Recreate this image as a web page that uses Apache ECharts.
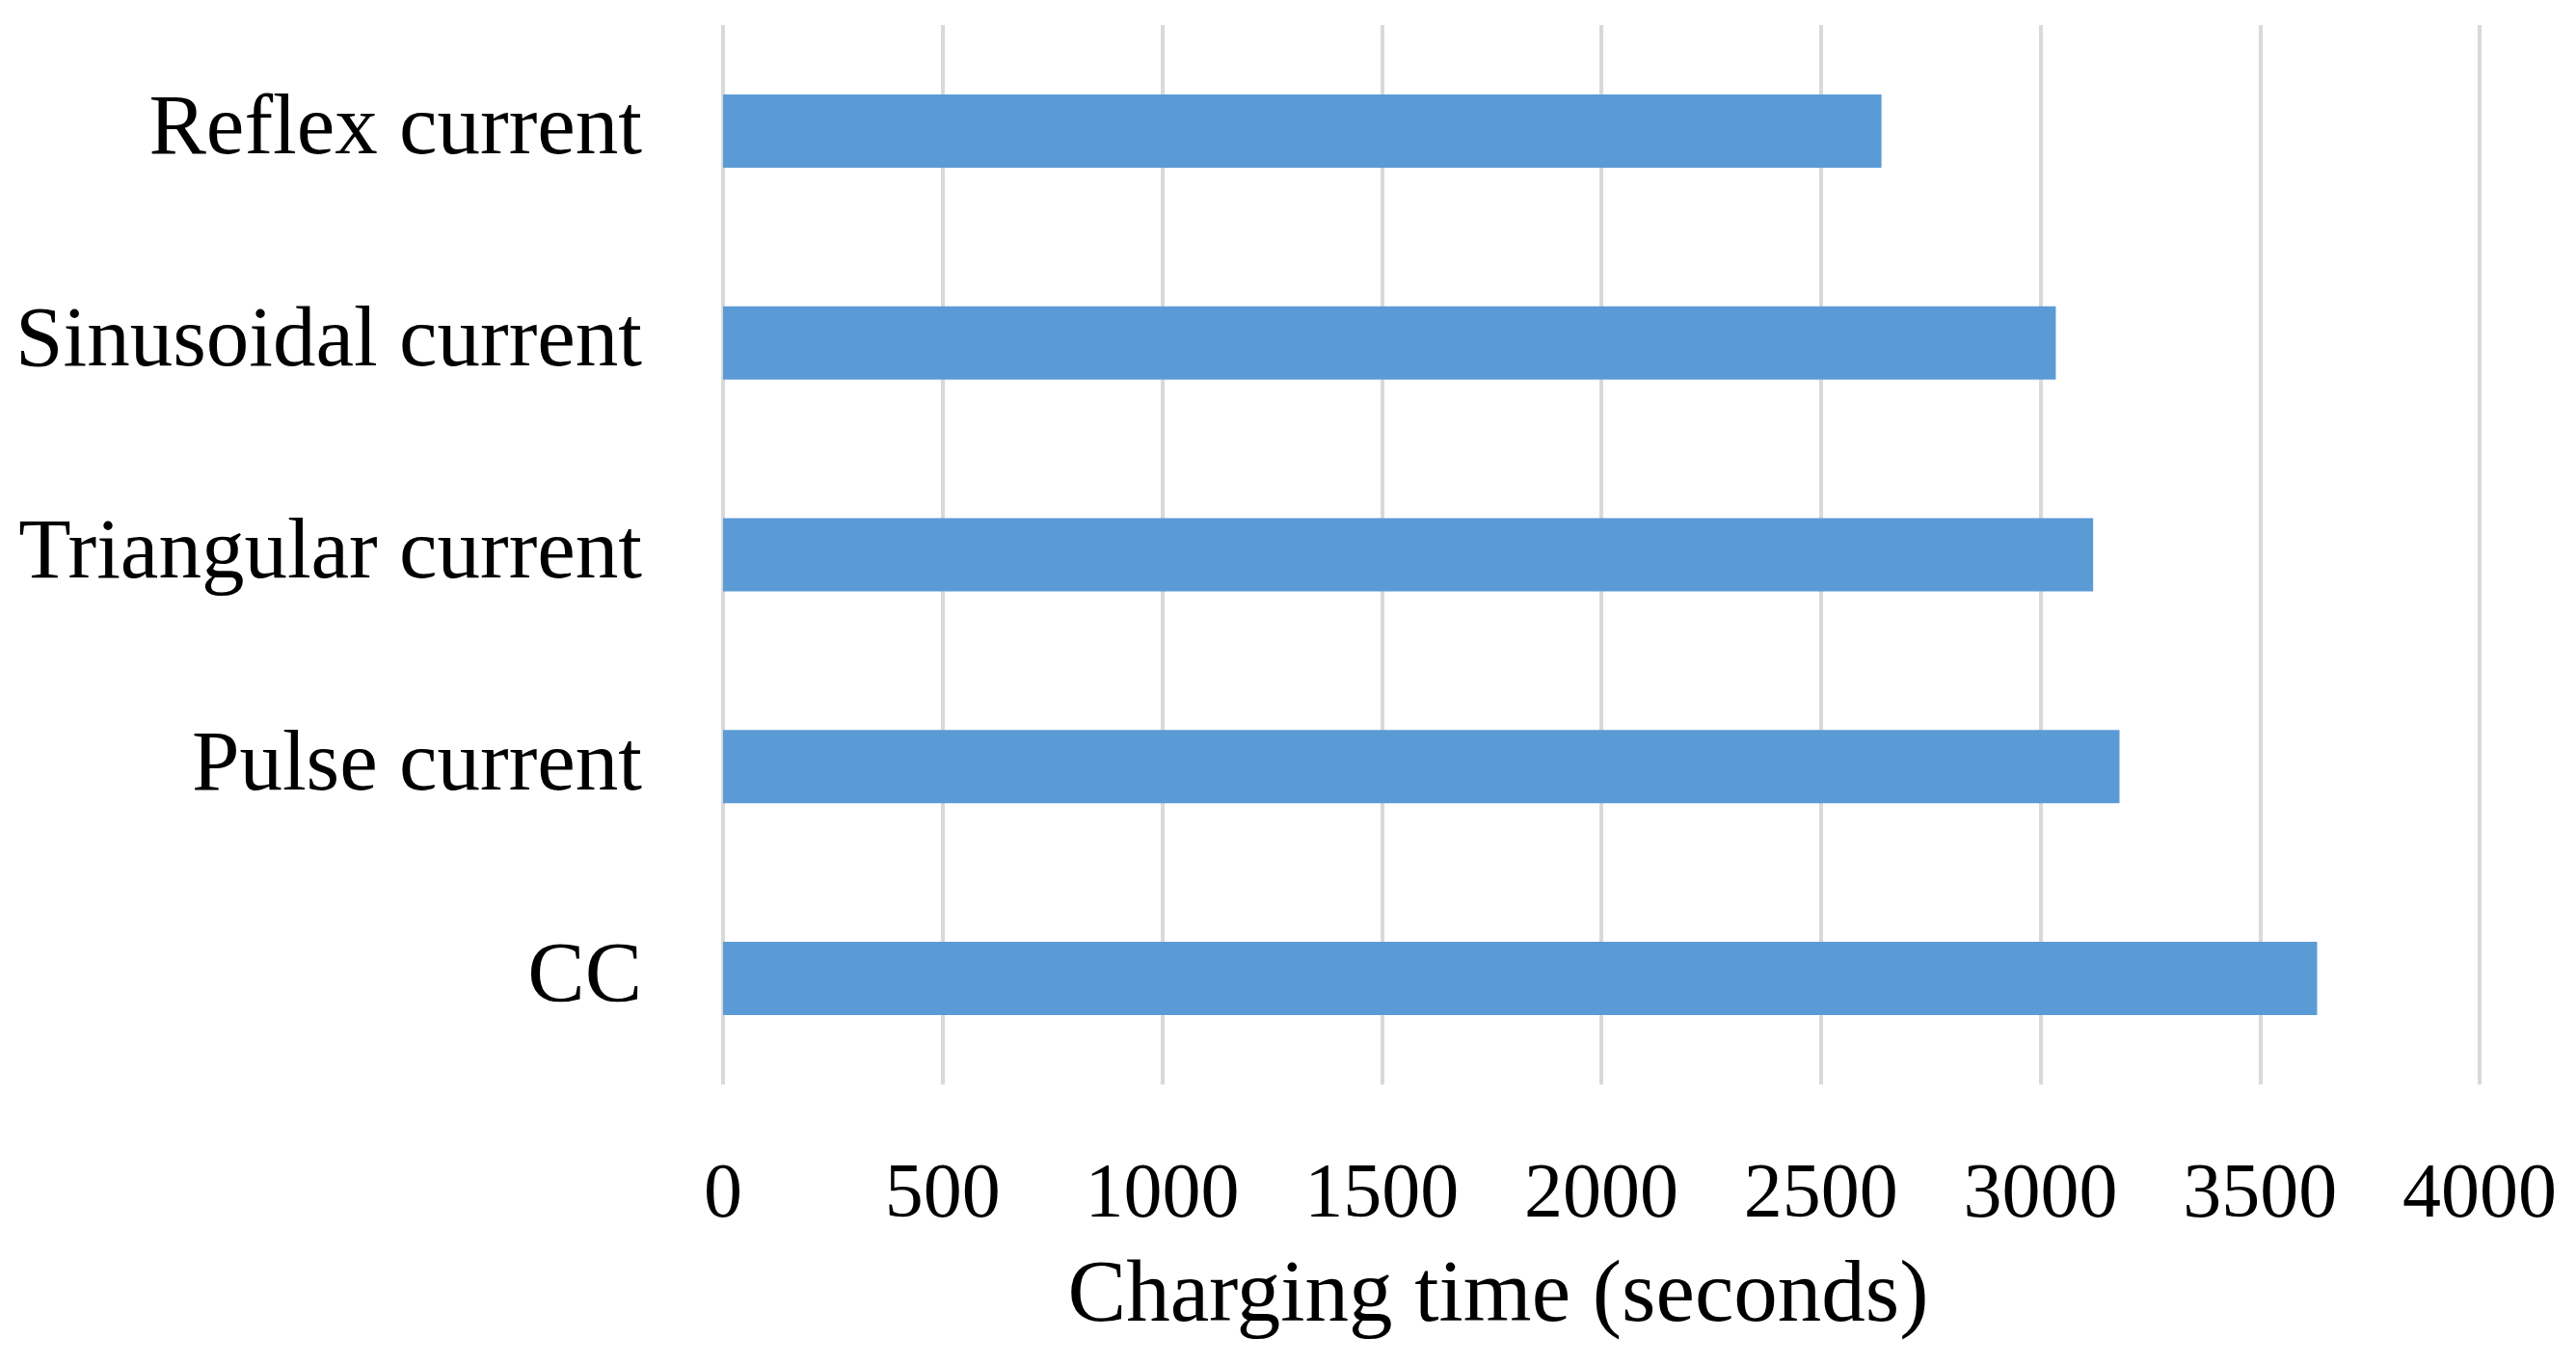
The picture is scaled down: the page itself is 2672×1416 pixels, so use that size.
<!DOCTYPE html>
<html>
<head>
<meta charset="utf-8">
<title>Charging time</title>
<script src="https://cdn.jsdelivr.net/npm/echarts@6/dist/echarts.min.js"></script>
<style>
  html, body { margin: 0; padding: 0; background: #fff; }
  #chart { width: 2672px; height: 1416px; }
</style>
</head>
<body>
<div id="chart"></div>
<script>
// categories top to bottom
const categories = ['Reflex current', 'Sinusoidal current', 'Triangular current', 'Pulse current', 'CC']
// charging time, seconds
const chargingTime = [2638, 3035, 3120, 3180, 3630]
const xTicks = { min: 0, max: 4000, interval: 500 }

const chart = echarts.init(document.getElementById('chart'))

const option = {
  backgroundColor: '#ffffff',
  textStyle: { fontFamily: '"Liberation Serif", "DejaVu Serif", serif' },
  grid: {
    left: 750,
    right: 100,
    top: 26,
    bottom: 291,
    containLabel: false
  },
  xAxis: {
    type: 'value',
    min: xTicks.min,
    max: xTicks.max,
    interval: xTicks.interval,
    name: 'Charging time (seconds)',
    nameLocation: 'middle',
    nameGap: 176,
    nameMoveOverlap: false,
    nameTextStyle: {
      color: '#000',
      fontSize: 91,
      lineHeight: 91,
      padding: [0, 214, 0, 0]  // 标题略偏左
    },
    axisLine: { show: false },
    axisTick: { show: false },
    axisLabel: {
      color: '#000',
      fontSize: 80,
      lineHeight: 80,
      margin: 76,
      formatter: (val) => String(val)
    },
    splitLine: {
      show: true,
      lineStyle: { color: '#d9d9d9', width: 4 }
    }
  },
  yAxis: {
    type: 'category',
    data: categories,
    inverse: true,
    axisLine: { show: false },
    axisTick: { show: false },
    splitLine: { show: false },
    axisLabel: {
      color: '#000',
      fontSize: 89,
      margin: 84
    }
  },
  series: [
    {
      type: 'bar',
      data: chargingTime,
      barWidth: 76,
      itemStyle: { color: '#5b9bd5' },
      animation: false
    }
  ]
}

chart.setOption(option)
window.addEventListener('resize', () => chart.resize())
</script>
</body>
</html>
